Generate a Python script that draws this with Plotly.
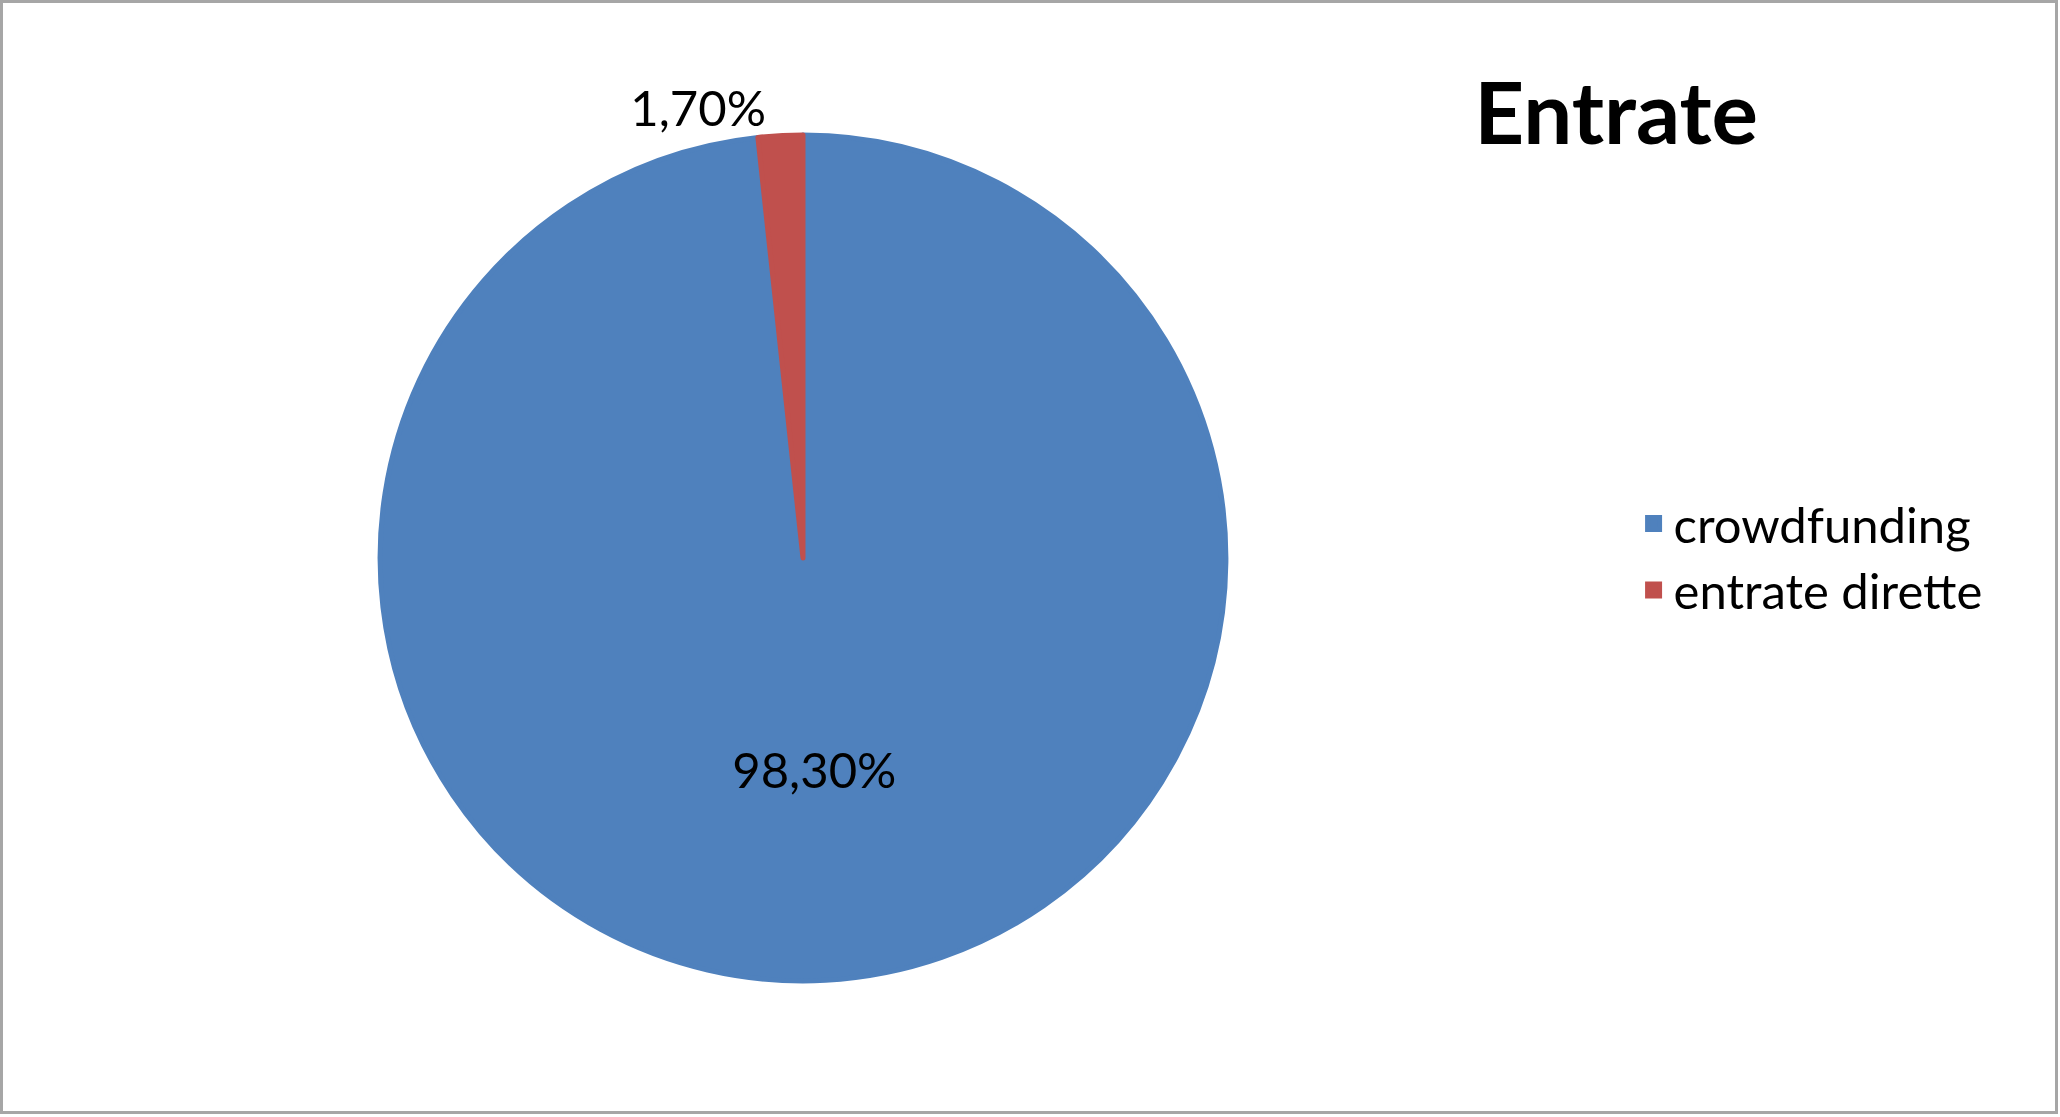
import plotly.graph_objects as go

# Data
labels = ["crowdfunding", "entrate dirette"]
values = [98.3, 1.7]
colors = ["#4F81BD", "#C0504D"]
title_text = "Entrate"

W, H = 2060, 1117
FONT = "Lato"

fig = go.Figure(
    go.Pie(
        labels=labels,
        values=values,
        sort=False,
        direction="clockwise",
        rotation=0,
        marker=dict(colors=colors, line=dict(width=5, color=colors)),
        texttemplate="%{percent:.2%}",
        textposition=["inside", "outside"],
        insidetextorientation="horizontal",
        textfont=dict(family=FONT, size=49, color="black"),
        insidetextfont=dict(family=FONT, size=49, color="black"),
        outsidetextfont=dict(family=FONT, size=49, color="black"),
        hoverinfo="label+percent",
        domain=dict(x=[0.1845, 0.5951], y=[0.1196, 0.8813]),
    )
)

fig.update_layout(
    width=W,
    height=H,
    margin=dict(l=0, r=0, t=0, b=0),
    paper_bgcolor="white",
    plot_bgcolor="white",
    separators=",.",
    font=dict(family=FONT, color="black"),
    title=dict(
        text="<b>" + title_text + "</b>",
        x=0.7845,
        y=0.898,
        xanchor="center",
        yanchor="middle",
        font=dict(family=FONT, size=87, color="black"),
    ),
    legend=dict(
        x=0.793,
        y=0.5013,
        xanchor="left",
        yanchor="middle",
        font=dict(family=FONT, size=49, color="black"),
        bgcolor="rgba(0,0,0,0)",
    ),
    shapes=[
        dict(
            type="rect",
            xref="paper",
            yref="paper",
            x0=1.5 / W,
            x1=1 - 3.5 / W,
            y0=4.5 / H,
            y1=1 - 1.5 / H,
            line=dict(color="#A6A6A6", width=3),
            fillcolor="rgba(0,0,0,0)",
            layer="above",
        )
    ],
)

fig.write_html(
    "out.html",
    config={"displayModeBar": False},
    post_script="document.documentElement.style.margin='0';document.body.style.margin='0';document.body.style.overflow='hidden';",
)
